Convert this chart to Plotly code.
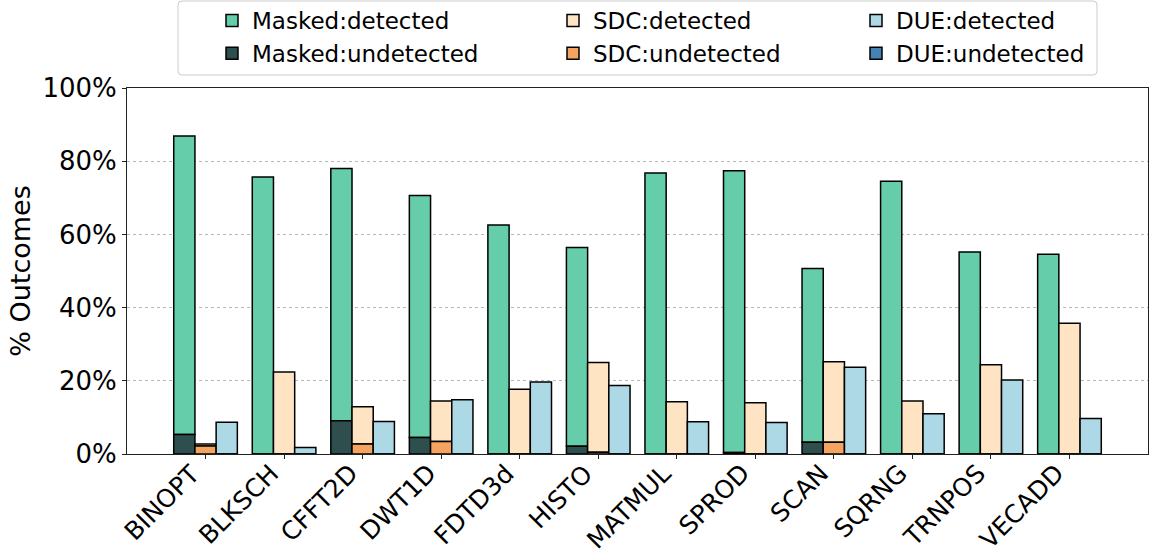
import plotly.graph_objects as go

categories = ["BINOPT", "BLKSCH", "CFFT2D", "DWT1D", "FDTD3d", "HISTO",
              "MATMUL", "SPROD", "SCAN", "SQRNG", "TRNPOS", "VECADD"]

masked_undetected = [5.3, 0.0, 9.1, 4.5, 0.0, 2.1, 0.0, 0.4, 3.2, 0.0, 0.0, 0.0]
masked_detected = [81.6, 75.7, 68.9, 66.1, 62.6, 54.3, 76.8, 77.0, 47.5, 74.5, 55.2, 54.6]
sdc_undetected = [2.2, 0.0, 2.7, 3.4, 0.0, 0.5, 0.0, 0.0, 3.2, 0.0, 0.0, 0.0]
sdc_detected = [0.5, 22.4, 10.2, 11.1, 17.7, 24.5, 14.3, 14.0, 22.0, 14.5, 24.4, 35.7]
due_undetected = [0.0] * 12
due_detected = [8.7, 1.8, 8.9, 14.8, 19.7, 18.7, 8.8, 8.6, 23.7, 11.0, 20.2, 9.7]

FONT = "DejaVu Sans"
EDGE = dict(color="black", width=1.5)

groups = [
    ("Masked", masked_detected, masked_undetected, "#66cdaa", "#2f4f4f", "legend"),
    ("SDC", sdc_detected, sdc_undetected, "#ffe4c4", "#f4a460", "legend2"),
    ("DUE", due_detected, due_undetected, "#add8e6", "#4682b4", "legend3"),
]

fig = go.Figure()
for name, det, undet, cdet, cund, leg in groups:
    fig.add_trace(go.Bar(
        x=categories, y=det, base=undet, name=f"{name}:detected",
        offsetgroup=name, marker=dict(color=cdet, line=EDGE), legend=leg,
    ))
    fig.add_trace(go.Bar(
        x=categories, y=undet, name=f"{name}:undetected",
        offsetgroup=name, marker=dict(color=cund, line=EDGE), legend=leg,
    ))

W, H = 1150, 554
# plot area in page pixels
PL, PR, PT, PB = 127, 1148, 88, 454
L, R, T, B = PL, W - PR, PT, H - PB
pw, ph = PR - PL, PB - PT

def px(xp):
    return (xp - PL) / pw

def py(yp):
    return (PB - yp) / ph

leg_common = dict(
    font=dict(family=FONT, size=23, color="black"),
    bgcolor="rgba(0,0,0,0)", borderwidth=0, orientation="v",
    xref="paper", yref="paper",
    xanchor="left", yanchor="top", y=py(-1), tracegroupgap=0,
    traceorder="normal",
)

# rounded legend frame
x0, x1, y0, y1 = px(178), px(1097), py(75), py(1)
rx, ry = 4 / pw, 4 / ph
path = (f"M{x0+rx},{y0} L{x1-rx},{y0} Q{x1},{y0} {x1},{y0+ry} "
        f"L{x1},{y1-ry} Q{x1},{y1} {x1-rx},{y1} L{x0+rx},{y1} "
        f"Q{x0},{y1} {x0},{y1-ry} L{x0},{y0+ry} Q{x0},{y0} {x0+rx},{y0} Z")

# rotated category labels, right/top aligned at each tick (like ha='right')
labels = [dict(x=c, xref="x", y=0, yref="paper", text=c, showarrow=False,
               textangle=-45, xanchor="right", yanchor="top", yshift=-2, xshift=3,
               font=dict(family=FONT, size=25, color="black"))
          for c in categories]

fig.update_layout(
    width=W, height=H,
    margin=dict(l=L, r=R, t=T, b=B, autoexpand=False),
    paper_bgcolor="white", plot_bgcolor="white",
    barmode="group", bargap=0.19, bargroupgap=0,
    font=dict(family=FONT, color="black"),
    legend=dict(leg_common, x=px(212)),
    legend2=dict(leg_common, x=px(553)),
    legend3=dict(leg_common, x=px(856)),
    annotations=labels,
    shapes=[dict(type="path", path=path, xref="paper", yref="paper",
                 line=dict(color="#cccccc", width=1), fillcolor="rgba(255,255,255,0.8)",
                 layer="below")],
    xaxis=dict(
        type="category", range=[-1, 12], showticklabels=False,
        showline=True, linecolor="#222", linewidth=1, mirror=True,
        ticks="outside", ticklen=4, tickcolor="#222", showgrid=False,
    ),
    yaxis=dict(
        range=[0, 100], dtick=20, ticksuffix="%",
        tickfont=dict(family=FONT, size=26, color="black"),
        title=dict(text="% Outcomes", font=dict(family=FONT, size=27, color="black"), standoff=4),
        showline=True, linecolor="#222", linewidth=1, mirror=True,
        ticks="outside", ticklen=4, tickcolor="#222",
        showgrid=True, gridcolor="#b8b8b8", griddash="dot", gridwidth=1,
        zeroline=False,
    ),
)

fig.write_html("out.html", config={"displayModeBar": False},
               post_script="document.body.style.margin='0px';")
